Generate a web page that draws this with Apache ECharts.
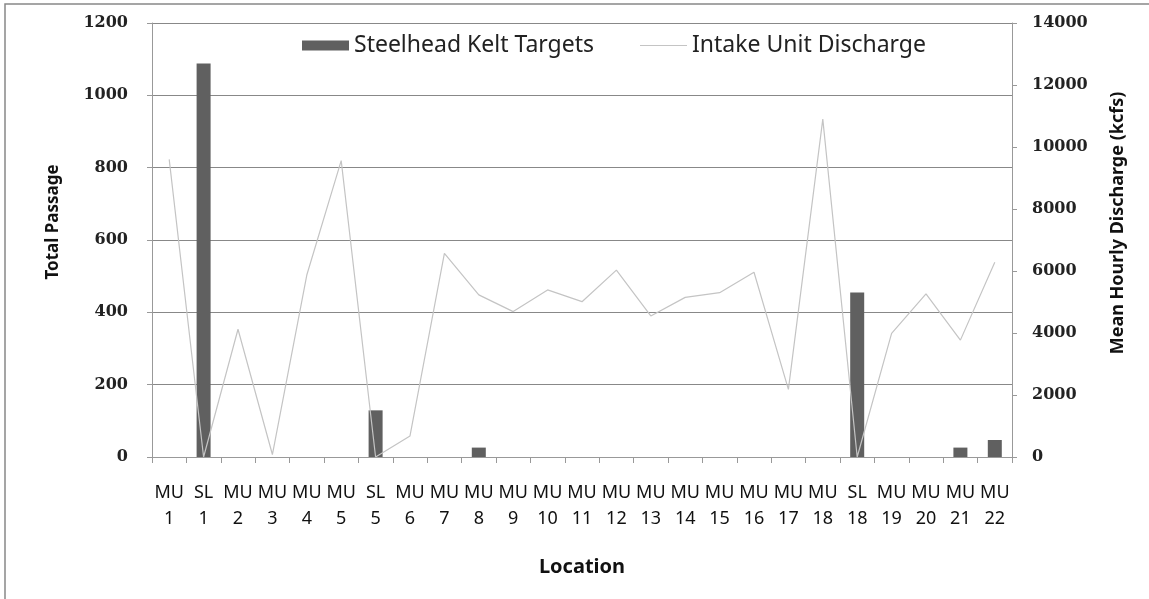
<!DOCTYPE html>
<html>
<head>
<meta charset="utf-8">
<script src="https://cdn.jsdelivr.net/npm/echarts@6/dist/echarts.min.js"></script>
<style>
  html, body { margin: 0; padding: 0; background: #fff; }
</style>
</head>
<body>
<div id="chart" style="width:1149px;height:599px"></div>
<script>
// locations along the x axis
var locations = ['MU 1', 'SL 1', 'MU 2', 'MU 3', 'MU 4', 'MU 5', 'SL 5', 'MU 6', 'MU 7', 'MU 8',
  'MU 9', 'MU 10', 'MU 11', 'MU 12', 'MU 13', 'MU 14', 'MU 15', 'MU 16', 'MU 17', 'MU 18',
  'SL 18', 'MU 19', 'MU 20', 'MU 21', 'MU 22'];
// total passage (left axis)
var keltTargets = [0, 1088, 0, 0, 0, 0, 129, 0, 0, 26,
  0, 0, 0, 0, 0, 0, 0, 0, 0, 0,
  455, 0, 0, 26, 47];
// mean hourly discharge, kcfs (right axis)
var unitDischarge = [9600, 0, 4120, 80, 5870, 9560, 0, 680, 6570, 5230,
  4690, 5390, 5010, 6030, 4550, 5150, 5300, 5960, 2180, 10900,
  0, 3990, 5260, 3770, 6280];

var myChart = echarts.init(document.getElementById('chart'));
var numFont = 'DejaVu Serif';
var sans = 'Noto Sans';

var option = {
  animation: false,
  graphic: [{
    type: 'rect',
    shape: { x: 5, y: 4, width: 1160, height: 620 },
    style: { fill: 'none', stroke: '#888', lineWidth: 1.5 }
  }, {
    // axis titles placed by hand, Excel puts them a bit above centre
    type: 'text',
    x: 53, y: 222,
    rotation: Math.PI / 2,
    style: {
      text: 'Total Passage', fontFamily: sans, fontSize: 17, fontWeight: 'bold',
      fill: '#111', align: 'center', verticalAlign: 'middle'
    }
  }, {
    type: 'text',
    x: 1118, y: 223,
    rotation: Math.PI / 2,
    style: {
      text: 'Mean Hourly Discharge (kcfs)', fontFamily: sans, fontSize: 18, fontWeight: 'bold',
      fill: '#111', align: 'center', verticalAlign: 'middle'
    }
  }],
  legend: {
    top: 29,
    left: 297,
    itemGap: 46,
    itemWidth: 47,
    itemHeight: 10,
    textStyle: { fontFamily: sans, fontSize: 23, color: '#222' },
    data: [
      { name: 'Steelhead Kelt Targets', icon: 'rect' },
      { name: 'Intake Unit Discharge', icon: 'path://M0,0 L100,0 L100,2 L0,2 Z' }
    ]
  },
  grid: { left: 152, right: 137, top: 23, bottom: 142 },
  xAxis: {
    type: 'category',
    data: locations,
    name: 'Location',
    nameLocation: 'middle',
    nameGap: 100,
    nameTextStyle: { fontFamily: sans, fontSize: 20, fontWeight: 'bold', color: '#111' },
    axisLine: { lineStyle: { color: '#999' } },
    axisTick: { show: true, length: 6, lineStyle: { color: '#999' } },
    axisLabel: {
      interval: 0,
      margin: 23,
      fontFamily: sans,
      fontSize: 18,
      lineHeight: 26,
      color: '#111',
      formatter: function (v) { return v.replace(' ', '\n'); }
    }
  },
  yAxis: [{
    type: 'value',
    min: 0, max: 1200, interval: 200,
    axisLine: { show: true, lineStyle: { color: '#999' } },
    axisTick: { show: true, length: 5, lineStyle: { color: '#999' } },
    axisLabel: {
      fontFamily: numFont, fontWeight: 'bold', fontSize: 16, color: '#222', margin: 24,
      formatter: function (v) { return String(v); }
    },
    splitLine: { show: true, lineStyle: { color: '#888', width: 1 } }
  }, {
    type: 'value',
    min: 0, max: 14000, interval: 2000,
    axisLine: { show: true, lineStyle: { color: '#999' } },
    axisTick: { show: true, length: 5, lineStyle: { color: '#999' } },
    axisLabel: {
      fontFamily: numFont, fontWeight: 'bold', fontSize: 16, color: '#222', margin: 20,
      formatter: function (v) { return String(v); }
    },
    splitLine: { show: false }
  }],
  series: [{
    name: 'Steelhead Kelt Targets',
    type: 'bar',
    yAxisIndex: 0,
    barWidth: 14,
    itemStyle: { color: '#606060' },
    data: keltTargets
  }, {
    name: 'Intake Unit Discharge',
    type: 'line',
    yAxisIndex: 1,
    symbol: 'none',
    lineStyle: { color: '#c4c4c4', width: 1.2 },
    itemStyle: { color: '#c4c4c4' },
    data: unitDischarge
  }]
};
myChart.setOption(option);
</script>
</body>
</html>
